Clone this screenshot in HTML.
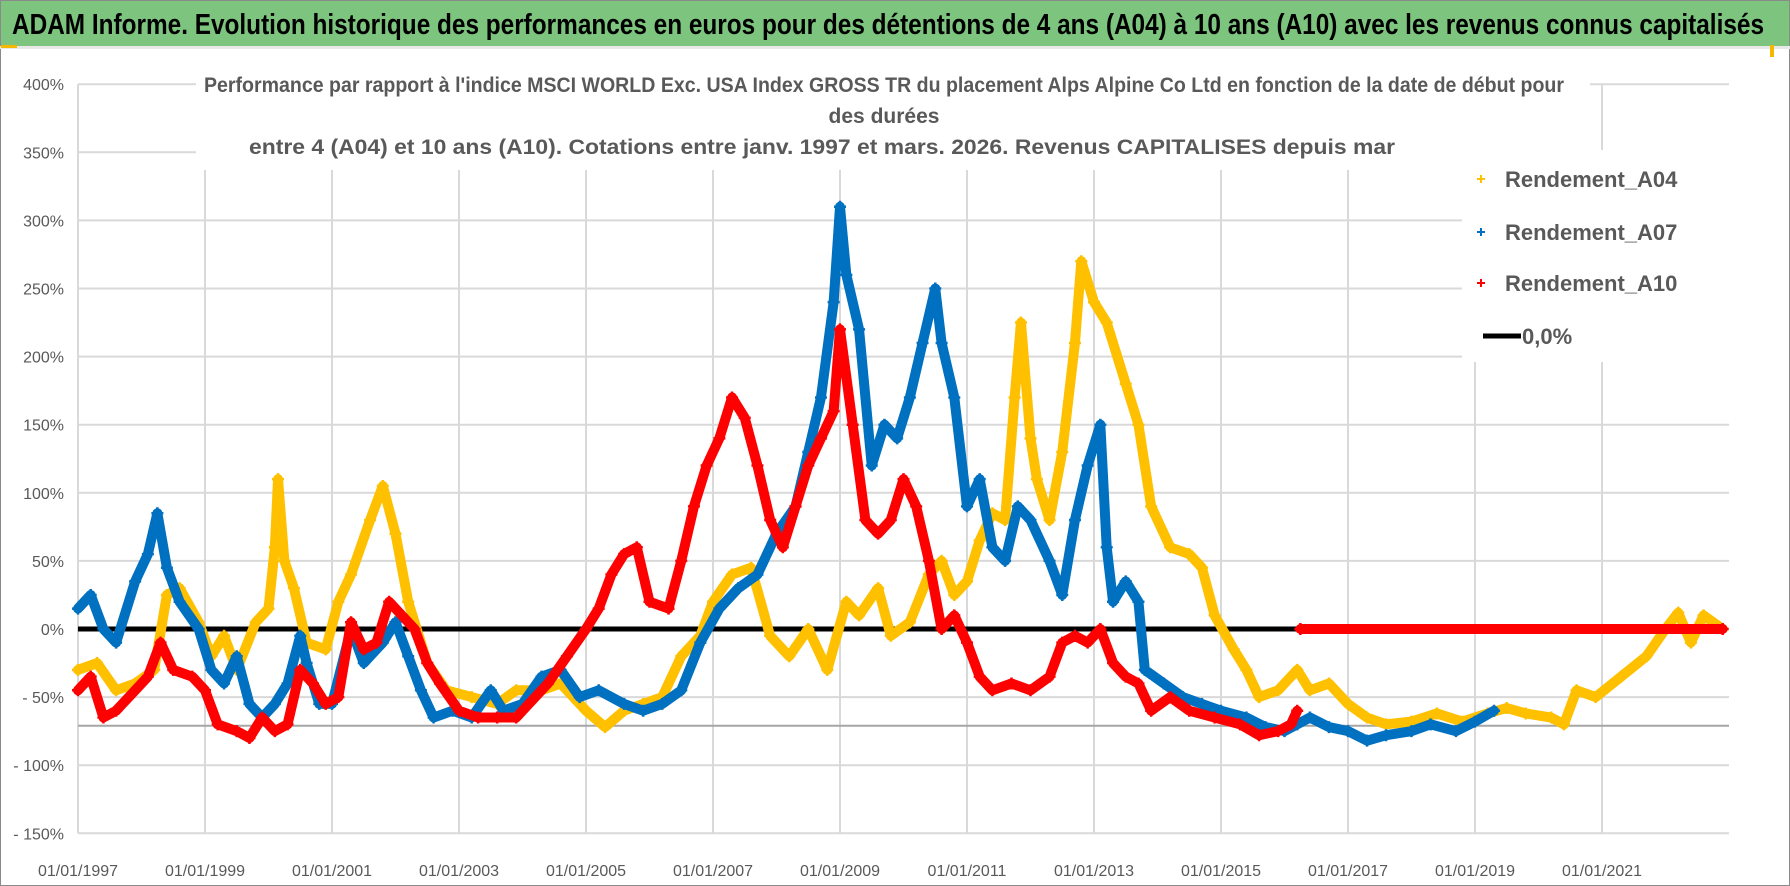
<!DOCTYPE html>
<html><head><meta charset="utf-8"><style>
html,body{margin:0;padding:0;background:#fff}
svg{display:block}
</style></head><body>
<svg id="chart" width="1790" height="886" xmlns="http://www.w3.org/2000/svg" font-family="'Liberation Sans', sans-serif">
<rect x="0" y="0" width="1790" height="886" fill="#fff" stroke="#8a8a8a" stroke-width="2"/>
<rect x="1" y="1" width="1788" height="45" fill="#7dc47e"/>
<rect x="0" y="46" width="1790" height="3" fill="#e8e8e8"/>
<rect x="1" y="45" width="16" height="3" fill="#f5b800"/>
<rect x="1770" y="45" width="4" height="12" fill="#f5b800"/>
<text x="12" y="34" font-size="29" font-weight="bold" fill="#000" textLength="1752" lengthAdjust="spacingAndGlyphs">ADAM Informe. Evolution historique des performances en euros pour des détentions de 4 ans (A04) à 10 ans (A10) avec les revenus connus capitalisés</text>
<g id="grid"></g>
<g id="marks"></g>
<rect x="196" y="70" width="1394" height="100" fill="#fff"/>
<g font-size="21" font-weight="bold" fill="#595959" text-anchor="middle">
<text x="884" y="92" textLength="1360" lengthAdjust="spacingAndGlyphs">Performance par rapport à l'indice MSCI WORLD Exc. USA Index GROSS TR  du placement Alps Alpine Co Ltd en fonction de la date de début pour</text>
<text x="884" y="123">des durées</text>
<text x="822" y="154" textLength="1146" lengthAdjust="spacingAndGlyphs">entre 4 (A04) et 10 ans (A10).  Cotations entre janv. 1997 et mars. 2026.  Revenus CAPITALISES  depuis mar</text>
</g>
<g id="axes"></g>
<rect x="1462" y="150" width="300" height="212" fill="#fff"/>
<g font-size="22" font-weight="bold" fill="#595959">
<g><path d="M1477 179h8M1481 175v8" stroke="#ffc000" stroke-width="2"/><text x="1505" y="187">Rendement_A04</text></g>
<g><path d="M1477 232h8M1481 228v8" stroke="#0070c0" stroke-width="2"/><text x="1505" y="240">Rendement_A07</text></g>
<g><path d="M1477 283h8M1481 279v8" stroke="#ff0000" stroke-width="2"/><text x="1505" y="291">Rendement_A10</text></g>
<g><path d="M1483 336h38" stroke="#000" stroke-width="5"/><text x="1522" y="344">0,0%</text></g>
</g>
</svg>
<script>
const yTicks = [400,350,300,250,200,150,100,50,0,-50,-100,-150];
const yTickLabels = ['400%','350%','300%','250%','200%','150%','100%','50%','0%','- 50%','- 100%','- 150%'];
const xTicks = [1997,1999,2001,2003,2005,2007,2009,2011,2013,2015,2017,2019,2021];
const xTickLabels = ['01/01/1997','01/01/1999','01/01/2001','01/01/2003','01/01/2005','01/01/2007','01/01/2009','01/01/2011','01/01/2013','01/01/2015','01/01/2017','01/01/2019','01/01/2021'];
const refLineValue = -71;
const zeroLine = [[1997,0],[2016.25,0]];
const seriesA04 = [[1997.0,-30],[1997.3,-25],[1997.6,-45],[1997.9,-40],[1998.2,-30],[1998.4,25],[1998.6,30],[1998.9,5],[1999.1,-20],[1999.3,-5],[1999.5,-30],[1999.8,5],[2000.0,15],[2000.1,60],[2000.15,110],[2000.25,50],[2000.4,30],[2000.6,-10],[2000.9,-15],[2001.1,20],[2001.3,40],[2001.6,80],[2001.8,105],[2002.0,70],[2002.2,20],[2002.5,-25],[2002.8,-45],[2003.2,-50],[2003.6,-55],[2003.9,-45],[2004.3,-45],[2004.6,-40],[2005.0,-60],[2005.3,-72],[2005.6,-60],[2005.9,-55],[2006.2,-50],[2006.5,-20],[2006.8,-5],[2007.0,20],[2007.3,40],[2007.6,45],[2007.9,-5],[2008.2,-20],[2008.5,0],[2008.8,-30],[2009.1,20],[2009.3,10],[2009.6,30],[2009.8,-5],[2010.1,5],[2010.4,40],[2010.6,50],[2010.8,25],[2011.0,35],[2011.2,65],[2011.4,85],[2011.6,80],[2011.75,170],[2011.85,225],[2012.0,140],[2012.1,110],[2012.3,80],[2012.5,130],[2012.7,210],[2012.8,270],[2013.0,240],[2013.2,225],[2013.5,180],[2013.7,150],[2013.9,90],[2014.2,60],[2014.5,55],[2014.7,45],[2014.9,10],[2015.2,-15],[2015.4,-30],[2015.6,-50],[2015.9,-45],[2016.2,-30],[2016.4,-45],[2016.7,-40],[2017.0,-55],[2017.3,-65],[2017.6,-70],[2018.0,-68],[2018.4,-62],[2018.8,-68],[2019.2,-62],[2019.5,-58],[2019.8,-62],[2020.2,-65],[2020.4,-70],[2020.6,-45],[2020.9,-50],[2021.3,-35],[2021.7,-20],[2022.0,0],[2022.2,12],[2022.4,-10],[2022.6,10],[2022.9,0]];
const seriesA07 = [[1997.0,15],[1997.2,25],[1997.4,0],[1997.6,-10],[1997.9,35],[1998.1,55],[1998.25,85],[1998.4,45],[1998.6,20],[1998.9,0],[1999.1,-30],[1999.3,-40],[1999.5,-20],[1999.7,-55],[1999.9,-65],[2000.1,-55],[2000.3,-40],[2000.5,-5],[2000.6,-25],[2000.8,-55],[2001.0,-55],[2001.3,0],[2001.5,-25],[2001.8,-10],[2002.0,5],[2002.2,-20],[2002.4,-45],[2002.6,-65],[2002.9,-60],[2003.2,-65],[2003.5,-45],[2003.7,-60],[2004.0,-55],[2004.3,-35],[2004.6,-30],[2004.9,-50],[2005.2,-45],[2005.6,-55],[2005.9,-60],[2006.2,-55],[2006.5,-45],[2006.8,-10],[2007.1,15],[2007.4,30],[2007.7,40],[2008.0,70],[2008.3,90],[2008.5,130],[2008.7,170],[2008.9,240],[2009.0,310],[2009.1,260],[2009.3,220],[2009.5,120],[2009.7,150],[2009.9,140],[2010.1,170],[2010.3,210],[2010.5,250],[2010.6,210],[2010.8,170],[2011.0,90],[2011.2,110],[2011.4,60],[2011.6,50],[2011.8,90],[2012.0,80],[2012.3,50],[2012.5,25],[2012.7,80],[2012.9,120],[2013.1,150],[2013.2,60],[2013.3,20],[2013.5,35],[2013.7,20],[2013.8,-30],[2014.1,-40],[2014.4,-50],[2014.7,-55],[2015.0,-60],[2015.4,-65],[2015.7,-72],[2016.0,-75],[2016.2,-70],[2016.4,-65],[2016.7,-72],[2017.0,-75],[2017.3,-82],[2017.6,-78],[2018.0,-75],[2018.3,-70],[2018.7,-75],[2019.0,-68],[2019.3,-60]];
const seriesA10 = [[1997.0,-45],[1997.2,-35],[1997.4,-65],[1997.6,-60],[1997.9,-45],[1998.1,-35],[1998.3,-10],[1998.5,-30],[1998.8,-35],[1999.0,-45],[1999.2,-70],[1999.5,-75],[1999.7,-80],[1999.9,-65],[2000.1,-75],[2000.3,-70],[2000.5,-30],[2000.7,-40],[2000.9,-55],[2001.1,-50],[2001.3,5],[2001.5,-15],[2001.7,-10],[2001.9,20],[2002.1,10],[2002.3,0],[2002.5,-25],[2002.7,-40],[2003.0,-60],[2003.3,-65],[2003.6,-65],[2003.9,-65],[2004.2,-50],[2004.4,-40],[2004.7,-20],[2005.0,0],[2005.2,15],[2005.4,40],[2005.6,55],[2005.8,60],[2006.0,20],[2006.3,15],[2006.5,50],[2006.7,90],[2006.9,120],[2007.1,140],[2007.3,170],[2007.5,155],[2007.7,120],[2007.9,80],[2008.1,60],[2008.3,90],[2008.5,120],[2008.7,140],[2008.9,160],[2009.0,220],[2009.2,150],[2009.4,80],[2009.6,70],[2009.8,80],[2010.0,110],[2010.2,90],[2010.4,50],[2010.6,0],[2010.8,10],[2011.0,-10],[2011.2,-35],[2011.4,-45],[2011.7,-40],[2012.0,-45],[2012.3,-35],[2012.5,-10],[2012.7,-5],[2012.9,-10],[2013.1,0],[2013.3,-25],[2013.5,-35],[2013.7,-40],[2013.9,-60],[2014.2,-50],[2014.5,-60],[2014.9,-65],[2015.3,-70],[2015.6,-78],[2015.9,-75],[2016.1,-70],[2016.2,-60]];
const seriesA10Zero = [[2016.25,0],[2022.9,0]];

const NS='http://www.w3.org/2000/svg';
const X0=1997, PX0=78, PXY=63.5, Y0=629, PXP=68.1/50;
function xs(v){return PX0+(v-X0)*PXY;}
function ys(v){return Y0-v*PXP;}
function mk(tag,attrs,parent){const e=document.createElementNS(NS,tag);for(const k in attrs)e.setAttribute(k,attrs[k]);parent.appendChild(e);return e;}
const grid=document.getElementById('grid'), marks=document.getElementById('marks'), axes=document.getElementById('axes');
const L=xs(1997), R=1729;
yTicks.forEach((t,i)=>{
  const l=mk('line',{x1:L,x2:R,y1:ys(t),y2:ys(t),stroke:'#d9d9d9','stroke-width':2},grid);
  
  
  const tx=mk('text',{x:64,y:ys(t)+6,'text-anchor':'end','font-size':16,fill:'#595959'},axes);
  tx.textContent=yTickLabels[i];
  
  
});
xTicks.forEach((t,i)=>{
  const l=mk('line',{x1:xs(t),x2:xs(t),y1:ys(400),y2:ys(-150),stroke:'#d9d9d9','stroke-width':2},grid);
  
  
  const tx=mk('text',{x:xs(t),y:876,'text-anchor':'middle','font-size':16,fill:'#595959'},axes);
  tx.textContent=xTickLabels[i];
  
  
});
const rl=mk('line',{x1:L,x2:R,y1:ys(refLineValue),y2:ys(refLineValue),stroke:'#a6a6a6','stroke-width':2},grid);



function zline(){
  const p=mk('polyline',{points:zeroLine.map(d=>xs(d[0])+','+ys(d[1])).join(' '),fill:'none',stroke:'#000','stroke-width':5},marks);
  
  
}
function series(data,color,name){
  const g=mk('g',{},marks);
  
  
  const p=mk('polyline',{points:data.map(d=>xs(d[0])+','+ys(d[1])).join(' '),fill:'none',stroke:color,'stroke-width':10,'stroke-linejoin':'round','stroke-linecap':'round'},g);
  
  
  data.forEach(d=>{
    const x=xs(d[0]),y=ys(d[1]);
    const m=mk('path',{d:`M${x-6} ${y}h12M${x} ${y-6}v12`,stroke:color,'stroke-width':2.5},g);
    
    
  });
}
zline();
series(seriesA04,'#ffc000','series-a04');
series(seriesA07,'#0070c0','series-a07');
series(seriesA10,'#ff0000','series-a10');
series(seriesA10Zero,'#ff0000','series-a10-zero');
</script>
</body></html>
